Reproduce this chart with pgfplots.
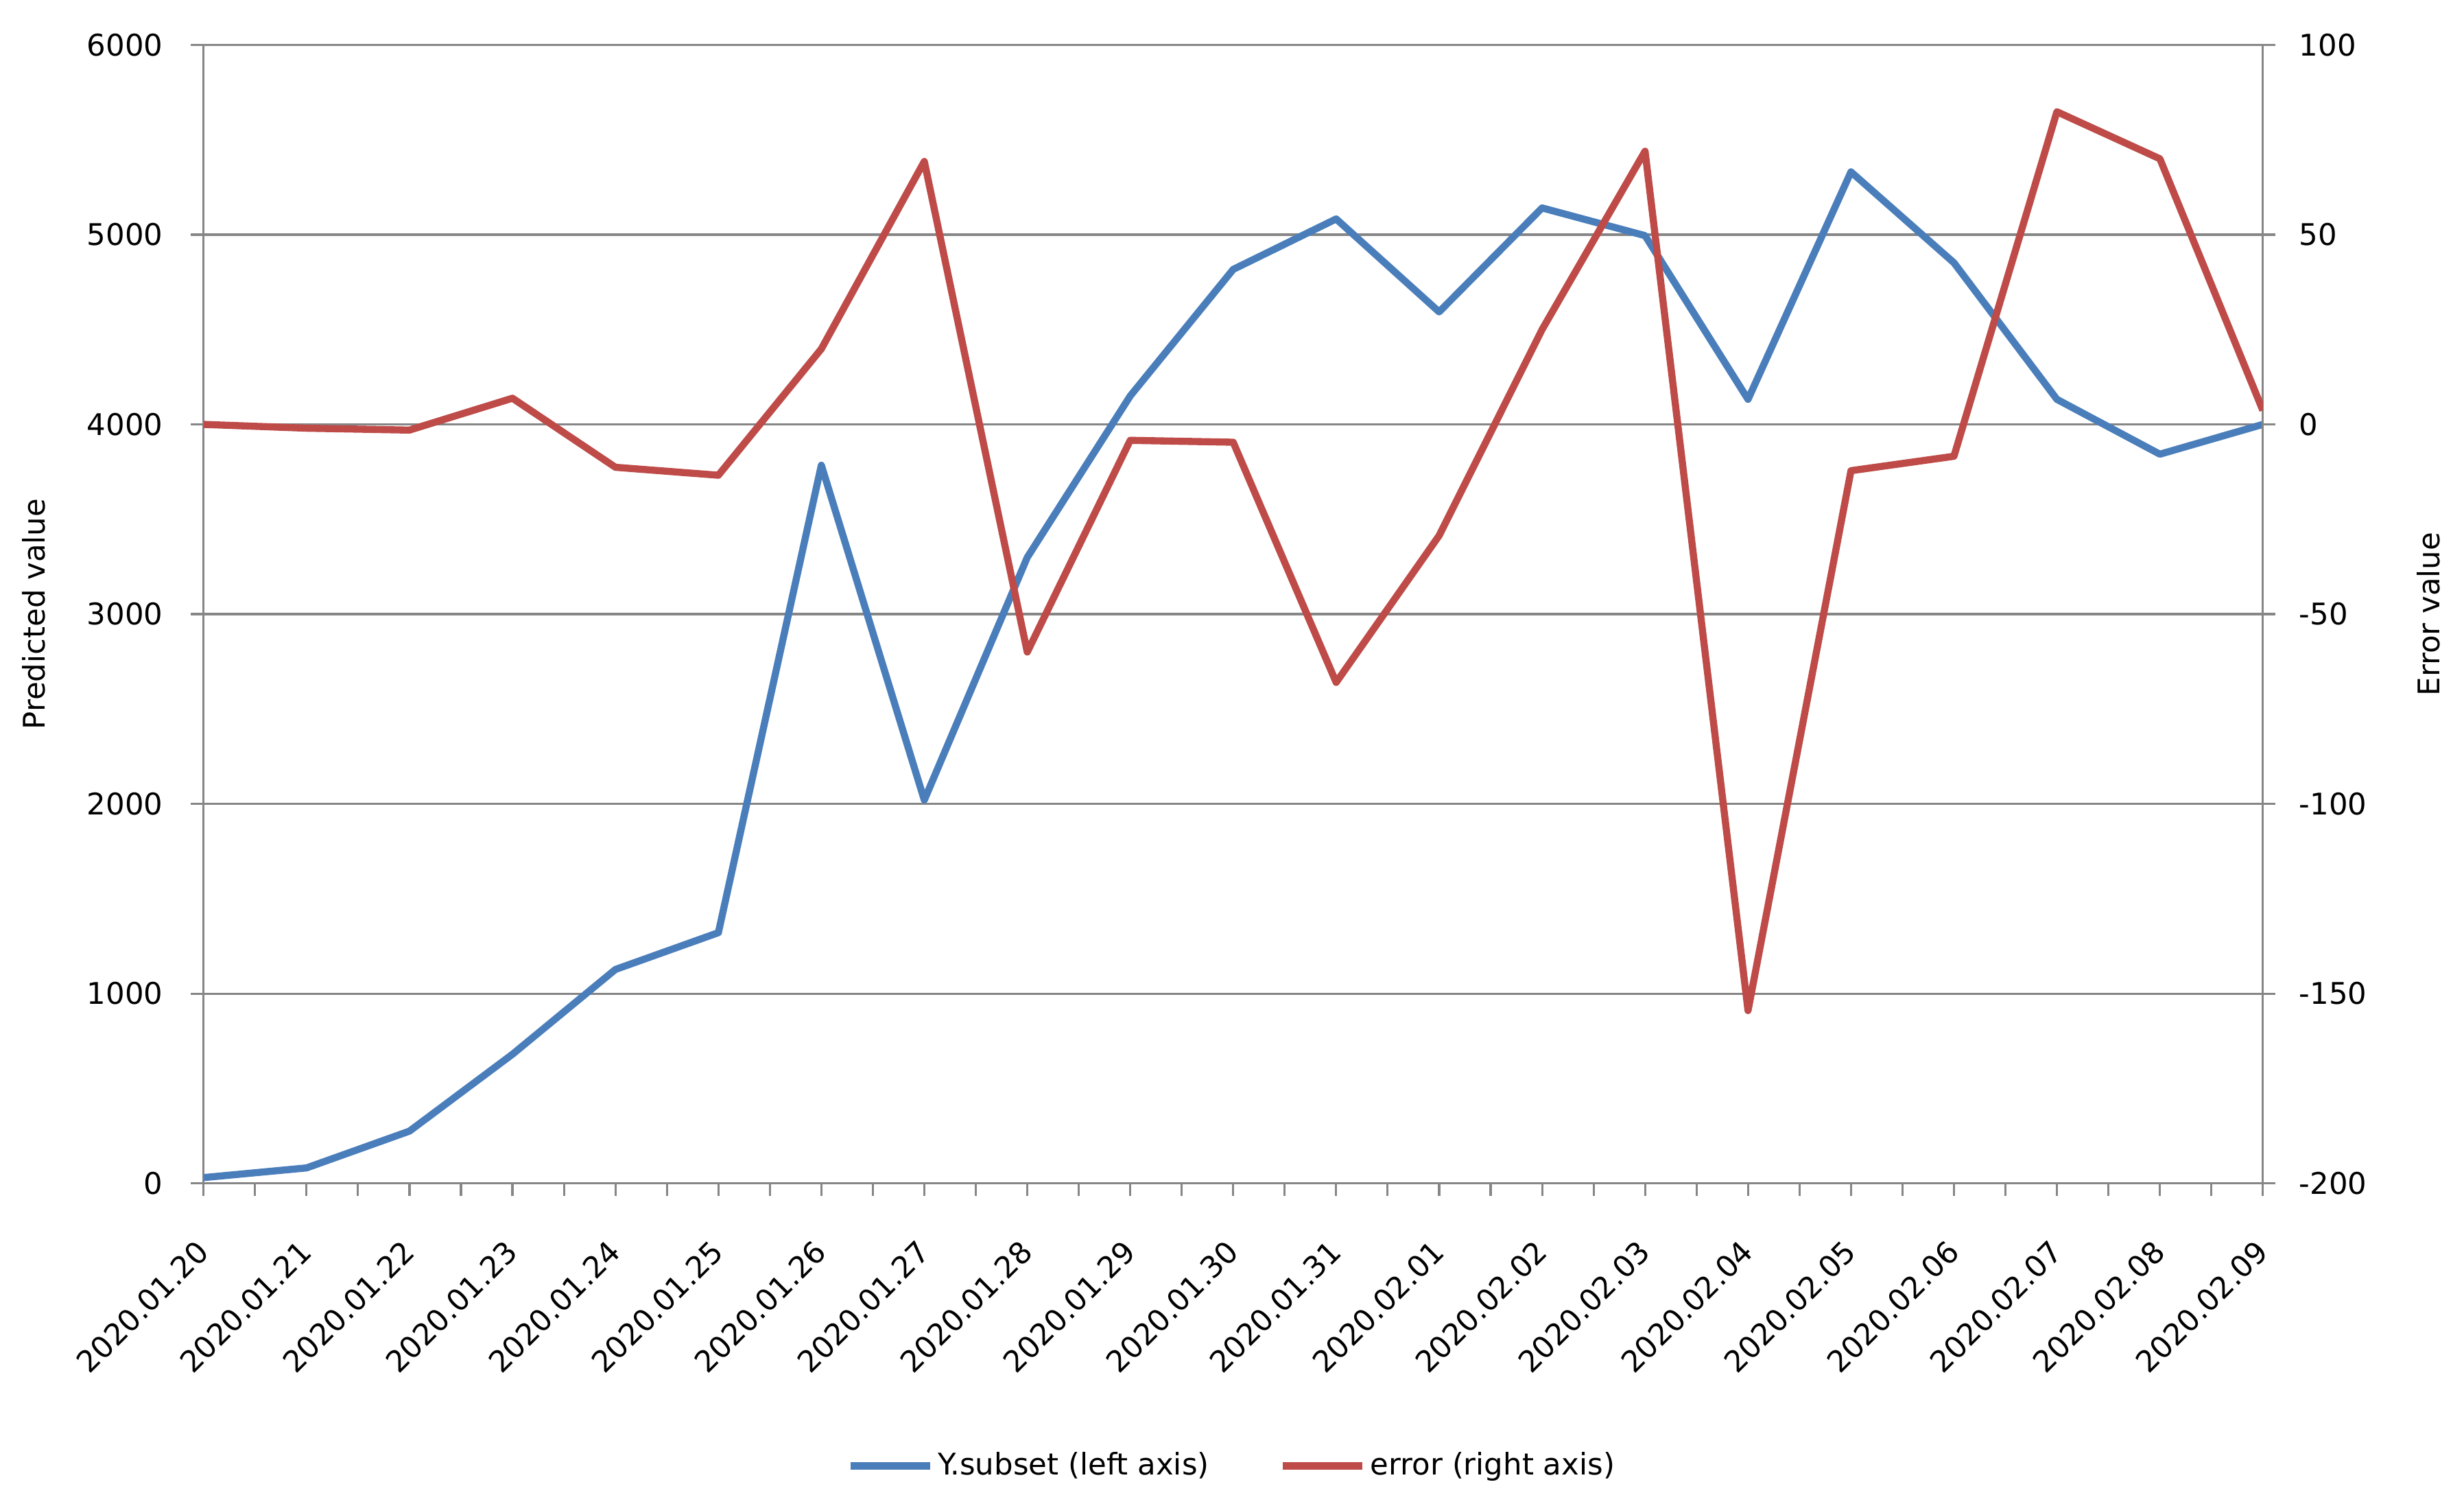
\documentclass[border=0pt]{standalone}
\usepackage{pgfplots}
\pgfplotsset{compat=1.18}
\usepackage{fontspec}
\setmainfont{DejaVu Sans}
\definecolor{xlblue}{HTML}{4A7EBB}
\definecolor{xlred}{HTML}{BE4B48}
\definecolor{xlgray}{HTML}{868686}
\begin{document}
\fontsize{6.3}{7.5}\selectfont
\begin{tikzpicture}
\pgfplotsset{
  every axis/.append style={font=\fontsize{6.3}{7.5}\selectfont},
  /pgf/number format/assume math mode=true,
  /pgf/number format/1000 sep={},
  common/.style={
    scale only axis, width=435pt, height=240.4pt,
    xmin=0, xmax=20,
    axis line style={xlgray, line width=0.45pt},
    tick align=outside, major tick length=2.7pt, minor tick length=2.7pt,
    tick style={xlgray, line width=0.45pt},
    scaled y ticks=false,
  },
}
\begin{axis}[common, name=main,
  ymin=0, ymax=6000,
  axis x line*=bottom, axis y line*=left,
  xtick={0,...,20},
  xticklabels={2020.01.20,2020.01.21,2020.01.22,2020.01.23,2020.01.24,2020.01.25,2020.01.26,2020.01.27,2020.01.28,2020.01.29,2020.01.30,2020.01.31,2020.02.01,2020.02.02,2020.02.03,2020.02.04,2020.02.05,2020.02.06,2020.02.07,2020.02.08,2020.02.09},
  minor x tick num=1,
  ytick={0,1000,...,6000},
  ymajorgrids, grid style={xlgray, line width=0.45pt},
  xticklabel style={rotate=45, anchor=east, inner sep=0pt},
  xticklabel shift=10.5pt,
  yticklabel style={anchor=east, inner sep=0pt},
  yticklabel shift=5.7pt,
  ylabel={Predicted value},
  every axis y label/.style={at={(axis description cs:-0.0823,0.5)}, rotate=90, anchor=center},
  legend style={at={(0.5,-0.2483)}, anchor=center, draw=none, fill=none,
    legend columns=2, inner sep=0pt,
    /tikz/every even column/.append style={column sep=13.8pt},
    nodes={inner sep=1pt}},
  legend image code/.code={\draw[#1, line width=1.5pt] (0pt,0pt) -- (16.8pt,0pt);},
  legend cell align=left,
]
\addplot[xlblue, line width=1.5pt, line join=round] coordinates {
(0,30) (1,81) (2,275) (3,680) (4,1127) (5,1321) (6,3785) (7,2020) (8,3299) (9,4150)
(10,4817) (11,5083) (12,4593) (13,5141) (14,4995) (15,4132) (16,5331) (17,4852)
(18,4132) (19,3843) (20,4000)};
\addlegendentry{Y.subset (left axis)}
\addlegendimage{xlred, line width=1.5pt}
\addlegendentry{error (right axis)}
\end{axis}
\begin{axis}[common,
  ymin=-200, ymax=100,
  axis x line=none, axis y line*=right,
  ytick={-200,-150,...,100},
  yticklabel style={anchor=west, inner sep=0pt},
  yticklabel shift=4.8pt,
  ylabel={Error value},
  every axis y label/.style={at={(axis description cs:1.0803,0.5)}, rotate=90, anchor=center},
]
\addplot[xlred, line width=1.5pt, line join=round] coordinates {
(0,0) (1,-1) (2,-1.5) (3,6.9) (4,-11.3) (5,-13.4) (6,19.9) (7,69.3) (8,-60) (9,-4.2)
(10,-4.7) (11,-68) (12,-29.3) (13,25) (14,72) (15,-154.5) (16,-12.2) (17,-8.4)
(18,82.4) (19,70) (20,3.7)};
\end{axis}
\pgfresetboundingbox
\path ([shift={(-43pt,-67.7pt)}]main.south west) rectangle ([shift={(42.5pt,9.5pt)}]main.north east);
\end{tikzpicture}
\end{document}
